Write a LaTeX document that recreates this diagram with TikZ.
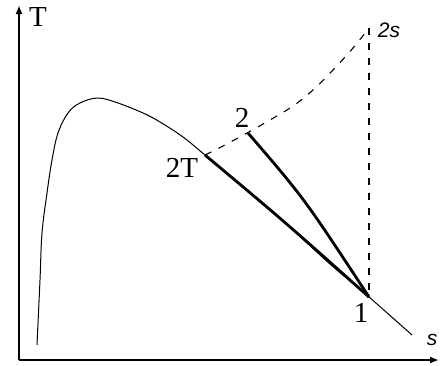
\documentclass[tikz,border=0pt]{standalone}
\usepackage{fontspec}
\setmainfont{Liberation Serif}
\setsansfont{Liberation Sans}
\usetikzlibrary{arrows.meta}

\begin{document}
\begin{tikzpicture}[
    x=1pt, y=-1pt,
    axis/.style={line width=1.8pt, -{Latex[length=9pt,width=7pt]}},
    dome/.style={line width=1pt},
    process/.style={line width=2.8pt},
    guide/.style={line width=1.1pt, dash pattern=on 7pt off 8pt},
    lbl/.style={font=\fontsize{29}{32}\selectfont, inner sep=0pt},
    slbl/.style={font=\sffamily\itshape\fontsize{21}{24}\selectfont, inner sep=0pt}
]
    \useasboundingbox (0,0) rectangle (441,365);

    % axes
    \coordinate (origin) at (19,360);
    \coordinate (ytop) at (19,5);
    \coordinate (xend) at (439,360);
    \draw[axis] (origin) -- (ytop);
    \draw[axis] (origin) -- (xend);
    \node[lbl] (ylabel) at (38,17) {T};
    \node[slbl] (xlabel) at (432,340) {s};

    % state points
    \coordinate (pt1) at (369,297);
    \coordinate (pt2) at (248,133);
    \coordinate (pt2T) at (205,155);
    \coordinate (pt2s) at (369,28);

    % saturation curve
    \draw[dome] plot[smooth, tension=0.6] coordinates {
        (37,345) (40,280) (42,233) (47,193) (52,160) (58,133) (68,113)
        (80,103) (98,98) (118,103) (143,113) (160,122) (183,137) (205,155)
        (240,184) (280,218) (330,264) (369,297) (412,335)};

    % dashed isobar and isentrope
    \draw[guide] plot[smooth, tension=0.6] coordinates {
        (205,155) (223,146) (247,133) (270,120) (293,106) (313,90)
        (333,70) (353,48) (369,28)};
    \draw[guide] (pt2s) -- (pt1);

    % compression lines
    \draw[process] (pt2T) .. controls (285,222) .. (pt1);
    \draw[process] (pt2) .. controls (304,198) .. (pt1);

    % labels
    \node[lbl] (l1) at (361,313) {1};
    \node[lbl] (l2) at (242,118) {2};
    \node[lbl] (l2T) at (182,168) {2T};
    \node[slbl] (l2s) at (389,30) {2s};
\end{tikzpicture}
\end{document}
